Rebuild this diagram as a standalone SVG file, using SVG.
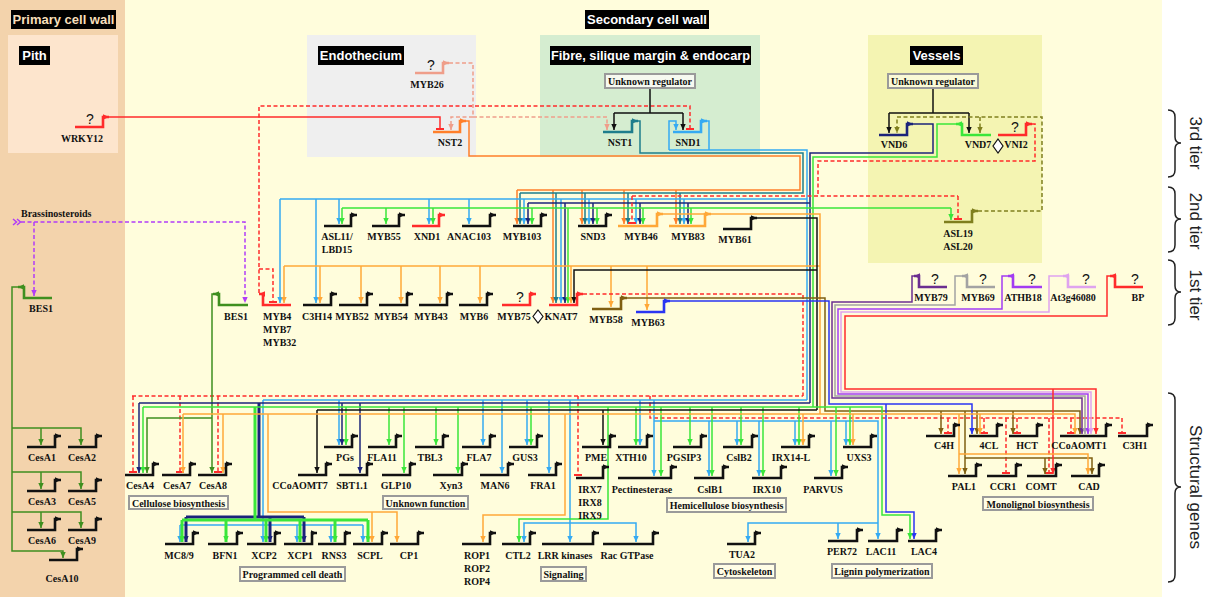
<svg xmlns="http://www.w3.org/2000/svg" width="1205" height="597" viewBox="0 0 1205 597">
<defs>
<style>
.c{fill:none;stroke-width:1.5}
.th{stroke-width:3}
.d{stroke-dasharray:4 2.5}
.gn{fill:none;stroke-width:2.6}
.K{stroke:#111}.R{stroke:#FF2B2B}.PK{stroke:#EF9E8A}.O1{stroke:#FF7F2A}.T{stroke:#1E7D8C}.LB{stroke:#35AAF2}.NV{stroke:#1B237A}.G{stroke:#3AE63A}.OL{stroke:#7F7F1E}.O2{stroke:#FFA838}.DG{stroke:#3F8F1F}.BR{stroke:#7F5F12}.BL{stroke:#2A35F2}.P1{stroke:#6B2E90}.GY{stroke:#A3A3A3}.P2{stroke:#A23CF2}.LP{stroke:#DFA3EF}.BS{stroke:#B13CF7}
.K.a{marker-end:url(#aK)}.R.a{marker-end:url(#aR)}.PK.a{marker-end:url(#aPK)}.O1.a{marker-end:url(#aO1)}.T.a{marker-end:url(#aT)}.LB.a{marker-end:url(#aLB)}.NV.a{marker-end:url(#aNV)}.G.a{marker-end:url(#aG)}.OL.a{marker-end:url(#aOL)}.O2.a{marker-end:url(#aO2)}.DG.a{marker-end:url(#aDG)}.BR.a{marker-end:url(#aBR)}.BL.a{marker-end:url(#aBL)}.P1.a{marker-end:url(#aP1)}.GY.a{marker-end:url(#aGY)}.P2.a{marker-end:url(#aP2)}.LP.a{marker-end:url(#aLP)}.BS.a{marker-end:url(#aBS)}
.tb{marker-end:url(#tR)}
text{font-family:"Liberation Serif","Times New Roman",serif}
.l{font-weight:bold;font-size:10px;text-anchor:middle;fill:#111}
.ls{font-weight:bold;font-size:10px;fill:#111}
.q{font-family:"Liberation Sans",Arial,sans-serif;font-size:14px;text-anchor:middle;fill:#111}
.hd{font-family:"Liberation Sans",Arial,sans-serif;font-weight:bold;font-size:13px;text-anchor:middle;fill:#fff}
.cb{fill:#FFFDE6;stroke:#9A9A9A;stroke-width:2}
.ur{fill:#F6F9F0;stroke:#9A9A9A;stroke-width:2}
.tr{font-family:"Liberation Sans",Arial,sans-serif;font-size:17px;text-anchor:middle;fill:#222}
.br{fill:none;stroke:#222;stroke-width:1.5}
.dm{fill:#fff;stroke:#111;stroke-width:1.2}
</style>
<marker id="aK" viewBox="0 0 6 6" refX="6" refY="3" markerWidth="6" markerHeight="6" markerUnits="userSpaceOnUse" orient="auto"><path d="M0 .3L6 3L0 5.7z" fill="#111"/></marker>
<marker id="aR" viewBox="0 0 6 6" refX="6" refY="3" markerWidth="6" markerHeight="6" markerUnits="userSpaceOnUse" orient="auto"><path d="M0 .3L6 3L0 5.7z" fill="#FF2B2B"/></marker>
<marker id="aPK" viewBox="0 0 6 6" refX="6" refY="3" markerWidth="6" markerHeight="6" markerUnits="userSpaceOnUse" orient="auto"><path d="M0 .3L6 3L0 5.7z" fill="#EF9E8A"/></marker>
<marker id="aO1" viewBox="0 0 6 6" refX="6" refY="3" markerWidth="6" markerHeight="6" markerUnits="userSpaceOnUse" orient="auto"><path d="M0 .3L6 3L0 5.7z" fill="#FF7F2A"/></marker>
<marker id="aT" viewBox="0 0 6 6" refX="6" refY="3" markerWidth="6" markerHeight="6" markerUnits="userSpaceOnUse" orient="auto"><path d="M0 .3L6 3L0 5.7z" fill="#1E7D8C"/></marker>
<marker id="aLB" viewBox="0 0 6 6" refX="6" refY="3" markerWidth="6" markerHeight="6" markerUnits="userSpaceOnUse" orient="auto"><path d="M0 .3L6 3L0 5.7z" fill="#35AAF2"/></marker>
<marker id="aNV" viewBox="0 0 6 6" refX="6" refY="3" markerWidth="6" markerHeight="6" markerUnits="userSpaceOnUse" orient="auto"><path d="M0 .3L6 3L0 5.7z" fill="#1B237A"/></marker>
<marker id="aG" viewBox="0 0 6 6" refX="6" refY="3" markerWidth="6" markerHeight="6" markerUnits="userSpaceOnUse" orient="auto"><path d="M0 .3L6 3L0 5.7z" fill="#3AE63A"/></marker>
<marker id="aOL" viewBox="0 0 6 6" refX="6" refY="3" markerWidth="6" markerHeight="6" markerUnits="userSpaceOnUse" orient="auto"><path d="M0 .3L6 3L0 5.7z" fill="#7F7F1E"/></marker>
<marker id="aO2" viewBox="0 0 6 6" refX="6" refY="3" markerWidth="6" markerHeight="6" markerUnits="userSpaceOnUse" orient="auto"><path d="M0 .3L6 3L0 5.7z" fill="#FFA838"/></marker>
<marker id="aDG" viewBox="0 0 6 6" refX="6" refY="3" markerWidth="6" markerHeight="6" markerUnits="userSpaceOnUse" orient="auto"><path d="M0 .3L6 3L0 5.7z" fill="#3F8F1F"/></marker>
<marker id="aBR" viewBox="0 0 6 6" refX="6" refY="3" markerWidth="6" markerHeight="6" markerUnits="userSpaceOnUse" orient="auto"><path d="M0 .3L6 3L0 5.7z" fill="#7F5F12"/></marker>
<marker id="aBL" viewBox="0 0 6 6" refX="6" refY="3" markerWidth="6" markerHeight="6" markerUnits="userSpaceOnUse" orient="auto"><path d="M0 .3L6 3L0 5.7z" fill="#2A35F2"/></marker>
<marker id="aP1" viewBox="0 0 6 6" refX="6" refY="3" markerWidth="6" markerHeight="6" markerUnits="userSpaceOnUse" orient="auto"><path d="M0 .3L6 3L0 5.7z" fill="#6B2E90"/></marker>
<marker id="aGY" viewBox="0 0 6 6" refX="6" refY="3" markerWidth="6" markerHeight="6" markerUnits="userSpaceOnUse" orient="auto"><path d="M0 .3L6 3L0 5.7z" fill="#A3A3A3"/></marker>
<marker id="aP2" viewBox="0 0 6 6" refX="6" refY="3" markerWidth="6" markerHeight="6" markerUnits="userSpaceOnUse" orient="auto"><path d="M0 .3L6 3L0 5.7z" fill="#A23CF2"/></marker>
<marker id="aLP" viewBox="0 0 6 6" refX="6" refY="3" markerWidth="6" markerHeight="6" markerUnits="userSpaceOnUse" orient="auto"><path d="M0 .3L6 3L0 5.7z" fill="#DFA3EF"/></marker>
<marker id="aBS" viewBox="0 0 6 6" refX="6" refY="3" markerWidth="6" markerHeight="6" markerUnits="userSpaceOnUse" orient="auto"><path d="M0 .3L6 3L0 5.7z" fill="#B13CF7"/></marker>
<marker id="tR" viewBox="0 0 2 8" refX="1" refY="4" markerWidth="2" markerHeight="8" markerUnits="userSpaceOnUse" orient="auto"><rect width="2" height="8" fill="#FF2B2B"/></marker>
</defs>

<g id="panels">
<rect width="1205" height="597" fill="#FFFFFF"/>
<rect x="125" y="0" width="1037" height="597" fill="#FFFDDC"/>
<rect x="0" y="0" width="125" height="597" fill="#F3D3AC"/>
<rect x="8" y="35" width="110" height="118" fill="#FDE5CD"/>
<rect x="307" y="35" width="169" height="122" fill="#EFEFEF"/>
<rect x="540" y="35" width="220" height="122" fill="#D5EDD0"/>
<rect x="868" y="35" width="174" height="228" fill="#F4F4B2"/>
<rect x="11" y="10" width="105" height="19" fill="#000"/><text class="hd" x="63.5" y="24" style="fill:#F7DFBB">Primary cell wall</text>
<rect x="19" y="46" width="31" height="19" fill="#000"/><text class="hd" x="34.5" y="60">Pith</text>
<rect x="585" y="10" width="124" height="19" fill="#000"/><text class="hd" x="647" y="24">Secondary cell wall</text>
<rect x="318" y="46" width="86" height="19" fill="#000"/><text class="hd" x="361" y="60">Endothecium</text>
<rect x="550" y="46" width="201" height="19" fill="#000"/><text class="hd" x="650.5" y="60" style="font-size:12.8px">Fibre, silique margin &amp; endocarp</text>
<rect x="910" y="46" width="53" height="19" fill="#000"/><text class="hd" x="936.5" y="60">Vessels</text>
</g>

<g id="tiers">
<path class="br" d="M1168 110Q1175 110 1175 117V137Q1175 143 1181 143Q1175 143 1175 149V170Q1175 177 1168 177"/>
<text class="tr" x="1190" y="143" transform="rotate(90 1190 143)">3rd tier</text>
<path class="br" d="M1168 187Q1175 187 1175 194V213Q1175 219 1181 219Q1175 219 1175 225V245Q1175 252 1168 252"/>
<text class="tr" x="1190" y="221" transform="rotate(90 1190 221)">2nd tier</text>
<path class="br" d="M1168 260Q1175 260 1175 267V286Q1175 292 1181 292Q1175 292 1175 298V318Q1175 325 1168 325"/>
<text class="tr" x="1190" y="295" transform="rotate(90 1190 295)">1st tier</text>
<path class="br" d="M1168 393Q1175 393 1175 400V481Q1175 487 1181 487Q1175 487 1175 493V575Q1175 582 1168 582"/>
<text class="tr" x="1190" y="487" transform="rotate(90 1190 487)">Structural genes</text>
</g>

<g id="connectors">
<path class="c R tb" d="M109 117H440V129"/>
<path class="c R d tb" d="M259 293V106H690V129"/>
<path class="c R d tb" d="M259 269H273V302"/>
<path class="c PK d a" d="M449 63H473V117H607V130"/>
<path class="c PK d a" d="M473 117H451V130"/>
<path class="c K" d="M650 88V113M614 113H683"/>
<path class="c K a" d="M614 113V130"/>
<path class="c K a" d="M683 113V130"/>
<path class="c K" d="M933 88V113M889 113H969"/>
<path class="c K a" d="M889 113V133"/>
<path class="c K a" d="M969 113V133"/>
<path class="c OL d a" d="M978 211H1042V117H897V133"/>
<path class="c OL d a" d="M980 117V133"/>
<path class="c LB" d="M707 121H709V150"/>
<path class="c LB a" d="M669 150V121H676V130"/>

<path class="c O1" d="M466 121H469V156H800V190H517"/>
<path class="c O1 a" d="M517 190V224"/>
<path class="c O1 a" d="M553 190V303"/>
<path class="c O1 a" d="M582 190V224"/>
<path class="c O1 a" d="M624 190V224"/>
<path class="c O1 a" d="M676 190V224"/>

<path class="c T" d="M638 121H640V153H803V193H520"/>
<path class="c T a" d="M520 193V224"/>
<path class="c T a" d="M556 193V303"/>
<path class="c T a" d="M585 193V224"/>
<path class="c T a" d="M628 193V224"/>
<path class="c T a" d="M680 193V224"/>

<path class="c LB" d="M669 150H807V400"/>
<path class="c LB" d="M280 199H807"/>
<path class="c LB a" d="M280 199V303"/>
<path class="c LB a" d="M316 199V303"/>
<path class="c LB a" d="M339 199V224"/>
<path class="c LB a" d="M429 199V224"/>
<path class="c LB a" d="M469 199V224"/>
<path class="c LB a" d="M524 199V224"/>
<path class="c LB a" d="M561 199V303"/>
<path class="c LB a" d="M589 199V224"/>
<path class="c LB a" d="M636 199V224"/>
<path class="c LB a" d="M684 199V224"/>

<path class="c NV" d="M913 124H933V153H810V403"/>
<path class="c NV" d="M528 203H810"/>
<path class="c NV a" d="M528 203V224"/>
<path class="c NV a" d="M565 203V303"/>
<path class="c NV a" d="M593 203V224"/>
<path class="c NV a" d="M640 203V224"/>
<path class="c NV a" d="M688 203V224"/>

<path class="c G" d="M956 124H937V157H813V407"/>
<path class="c G" d="M342 208H951"/>
<path class="c G a" d="M951 208V220"/>
<path class="c G a" d="M342 208V224"/>
<path class="c G a" d="M386 208V224"/>
<path class="c G a" d="M433 208V224"/>
<path class="c G a" d="M532 208V224"/>
<path class="c G a" d="M568 208V303"/>
<path class="c G a" d="M597 208V224"/>
<path class="c G a" d="M643 208V224"/>
<path class="c G a" d="M691 208V224"/>

<path class="c R d" d="M1032 124H1035V161H818V196"/>
<path class="c R d" d="M632 196H958"/>
<path class="c R d tb" d="M632 196V223"/>
<path class="c R d tb" d="M958 196V219"/>

<path class="c O2" d="M663 214H820V414"/>
<path class="c O2" d="M284 266H820"/>
<path class="c O2 a" d="M284 266V303"/>
<path class="c O2 a" d="M320 266V303"/>
<path class="c O2 a" d="M361 266V303"/>
<path class="c O2 a" d="M401 266V303"/>
<path class="c O2 a" d="M440 266V303"/>
<path class="c O2 a" d="M480 266V303"/>
<path class="c O2 a" d="M571 266V303"/>
<path class="c O2 a" d="M611 266V307"/>
<path class="c O2 a" d="M647 266V310"/>

<path class="c K" d="M757 218H817V410"/>
<path class="c K a" d="M817 270H574V303"/>

<path class="c R d" d="M583 294H803V396"/>
<path class="c R d" d="M132 396H803"/>
<path class="c R d tb" d="M133 396V472"/>
<path class="c R d tb" d="M180 396V472"/>
<path class="c R d tb" d="M218 396V472"/>
<path class="c R d tb" d="M578 396V475"/>
<path class="c R d tb" d="M650 396V418H1122V433"/>
<path class="c R d tb" d="M948 418V433"/>
<path class="c R d tb" d="M984 418V433"/>
<path class="c R d tb" d="M1006 418V473"/>
<path class="c R d tb" d="M1017 418V433"/>
<path class="c R d tb" d="M1049 418V473"/>
<path class="c R d tb" d="M1071 418V433"/>

<path class="c BR a" d="M627 298H825V411H1080V434"/>
<path class="c BR a" d="M941 411V434"/>
<path class="c BR a" d="M977 411V434"/>
<path class="c BR a" d="M1013 411V434"/>
<path class="c BR a" d="M965 411V474"/>
<path class="c BR a" d="M965 458H1092V474"/>
<path class="c BR a" d="M1045 458V474"/>

<path class="c BL a" d="M670 301H829V404H972V434"/>
<path class="c BL a" d="M886 404V512H914V539"/>

<path class="c P1 a" d="M914 276H912V302H832V398H1082V434"/>
<path class="c GY a" d="M962 276H955V305H835V396H1085V434"/>
<path class="c P2 a" d="M1008 276H1002V309H838V394H1088V434"/>
<path class="c LP a" d="M1063 276H1049V312H841V392H1091V434"/>
<path class="c R a" d="M1110 276H1107V316H845V389H1096V434"/>
<path class="c R a" d="M1053 389V474"/>

<path class="c BS" d="M13 219L16.5 222L13 225M17 219L20.5 222L17 225"/>
<path class="c BS d a" d="M21 222H245V303"/>
<path class="c BS d a" d="M34 222V296"/>

<path class="c DG a" d="M18 287H12V551H63V558"/>
<path class="c DG a" d="M12 428H81V445"/>
<path class="c DG a" d="M41 428V445"/>
<path class="c DG a" d="M12 472H81V489"/>
<path class="c DG a" d="M41 472V489"/>
<path class="c DG a" d="M12 512H81V528"/>
<path class="c DG a" d="M41 512V528"/>
<path class="c DG a" d="M213 294H212V473"/>
<path class="c DG a" d="M212 418H147V473"/>

<path class="c LB" d="M263 400H807"/>
<path class="c LB a" d="M339 400V445"/>
<path class="c LB a" d="M483 400V445"/>
<path class="c LB a" d="M502 400V473"/>
<path class="c LB a" d="M527 400V445"/>
<path class="c LB a" d="M549 400V473"/>
<path class="c LB a" d="M570 400V542"/>
<path class="c LB a" d="M640 400V445"/>
<path class="c LB a" d="M654 400V476"/>
<path class="c LB a" d="M263 400V542"/>
<path class="c LB" d="M180 525H363"/>
<path class="c LB a" d="M180 525V542"/>
<path class="c LB a" d="M297 525V542"/>
<path class="c LB a" d="M331 525V542"/>
<path class="c LB a" d="M363 525V542"/>
<path class="c LB a" d="M654 421H878V539"/>
<path class="c LB a" d="M709 421V476"/>
<path class="c LB a" d="M737 421V445"/>
<path class="c LB a" d="M759 421V476"/>
<path class="c LB a" d="M795 421V445"/>
<path class="c LB a" d="M831 421V476"/>
<path class="c LB a" d="M846 421V445"/>
<path class="c LB a" d="M878 523H748V542"/>
<path class="c LB a" d="M838 523V539"/>
<path class="c LB a" d="M570 523H524V542"/>
<path class="c LB a" d="M570 523H636V542"/>

<path class="c NV" d="M139 403H810"/>
<path class="c NV a" d="M139 403V473"/>
<path class="c NV a" d="M342 403V445"/>
<path class="c NV a" d="M360 403V473"/>
<path class="c NV th" d="M259 403V517M186 517H304"/>
<path class="c NV th a" d="M186 517V542"/>
<path class="c NV th a" d="M270 517V542"/>
<path class="c NV th a" d="M304 517V542"/>

<path class="c G a" d="M143 407H882V515H910V539"/>
<path class="c G a" d="M143 407V473"/>
<path class="c G a" d="M346 407V445"/>
<path class="c G a" d="M389 407V445"/>
<path class="c G a" d="M404 407V473"/>
<path class="c G a" d="M436 407V445"/>
<path class="c G a" d="M458 407V473"/>
<path class="c G a" d="M531 407V445"/>
<path class="c G a" d="M636 407V445"/>
<path class="c G a" d="M661 407V476"/>
<path class="c G a" d="M690 407V445"/>
<path class="c G a" d="M712 407V476"/>
<path class="c G a" d="M741 407V445"/>
<path class="c G a" d="M763 407V476"/>
<path class="c G a" d="M799 407V445"/>
<path class="c G a" d="M836 407V476"/>
<path class="c G a" d="M850 407V445"/>
<path class="c G a" d="M608 407V519H519V542"/>
<path class="c G th" d="M255 407V520M182 520H368"/>
<path class="c G th a" d="M182 520V542"/>
<path class="c G th a" d="M226 520V542"/>
<path class="c G th a" d="M266 520V542"/>
<path class="c G th a" d="M300 520V542"/>
<path class="c G th a" d="M335 520V542"/>
<path class="c G th a" d="M368 520V542"/>

<path class="c K" d="M317 410H817"/>
<path class="c K a" d="M317 410V473"/>
<path class="c K a" d="M603 410V445"/>

<path class="c O2 a" d="M183 414H1075V434"/>
<path class="c O2 a" d="M183 414V473"/>
<path class="c O2 a" d="M223 414V473"/>
<path class="c O2 a" d="M803 414V445"/>
<path class="c O2 a" d="M853 414V445"/>
<path class="c O2 a" d="M959 414V474"/>
<path class="c O2 a" d="M980 414V434"/>
<path class="c O2 a" d="M959 454H1088V474"/>
<path class="c O2 a" d="M268 414V512H397V542"/>
<path class="c O2 a" d="M372 512V542"/>
<path class="c O2 a" d="M565 414V515H483V542"/>
</g>

<g id="tier3">
<g id="n-WRKY12"><path class="gn R a" d="M75 127H103V117h6"/><text class="q" x="90" y="124">?</text><text class="l" x="82" y="142">WRKY12</text></g>
<g id="n-MYB26"><path class="gn PK a" d="M415 73H443V63h6"/><text class="q" x="431" y="70">?</text><text class="l" x="427" y="88">MYB26</text></g>
<g id="n-NST2"><path class="gn O1 a" d="M433 132H460V121h6"/><text class="l" x="450" y="146">NST2</text></g>
<g id="n-UR1"><rect class="ur" x="605" y="74" width="90" height="14"/><text class="l" x="650" y="84.5">Unknown regulator</text></g>
<g id="n-NST1"><path class="gn T a" d="M603 132H632V121h6"/><text class="l" x="620" y="146">NST1</text></g>
<g id="n-SND1"><path class="gn LB a" d="M673 132H701V121h6"/><text class="l" x="688" y="146">SND1</text></g>
<g id="n-UR2"><rect class="ur" x="888" y="74" width="90" height="14" style="fill:#FAFAD6"/><text class="l" x="933" y="84.5">Unknown regulator</text></g>
<g id="n-VND6"><path class="gn NV a" d="M879 135H907V124h6"/><text class="l" x="894" y="148">VND6</text></g>
<g id="n-VND7"><path class="gn G a" d="M991 135H962V124h-6"/><text class="l" x="978" y="148">VND7</text></g>
<g id="n-diamond2"><path class="dm" d="M998 139L1003 146L998 153L993 146Z"/></g>
<g id="n-VNI2"><path class="gn R a" d="M998 135H1026V124h6"/><text class="q" x="1015" y="132">?</text><text class="l" x="1016" y="148">VNI2</text></g>
</g>

<g id="tier2">
<g id="n-ASL11"><path class="gn K a" d="M324 226H351V215h6"/><text class="l" x="337" y="240">ASL11/</text><text class="l" x="337" y="253">LBD15</text></g>
<g id="n-MYB55"><path class="gn K a" d="M372 226H399V215h6"/><text class="l" x="384" y="240">MYB55</text></g>
<g id="n-XND1"><path class="gn R a" d="M412 226H439V215h6"/><text class="l" x="427" y="240">XND1</text></g>
<g id="n-ANAC103"><path class="gn K a" d="M462 226H490V215h6"/><text class="l" x="469" y="240">ANAC103</text></g>
<g id="n-MYB103"><path class="gn K a" d="M513 226H541V215h6"/><text class="l" x="522" y="240">MYB103</text></g>
<g id="n-SND3"><path class="gn K a" d="M578 226H606V215h6"/><text class="l" x="593" y="240">SND3</text></g>
<g id="n-MYB46"><path class="gn O2 a" d="M618 226H657V214h6"/><text class="l" x="641" y="240">MYB46</text></g>
<g id="n-MYB83"><path class="gn O2 a" d="M669 226H705V214h6"/><text class="l" x="688" y="240">MYB83</text></g>
<g id="n-MYB61"><path class="gn K a" d="M723 229H751V218h6"/><text class="l" x="735" y="243">MYB61</text></g>
<g id="n-ASL19"><path class="gn OL a" d="M944 222H972V211h6"/><text class="l" x="958" y="237">ASL19</text><text class="l" x="958" y="250">ASL20</text></g>
</g>

<g id="tier1">
<g id="n-Brassinosteroids"><text class="ls" x="21" y="217">Brassinosteroids</text></g>
<g id="n-BES1a"><path class="gn DG a" d="M52 298H24V287h-6"/><text class="l" x="41" y="312">BES1</text></g>
<g id="n-BES1b"><path class="gn DG a" d="M248 305H219V294h-6"/><text class="l" x="236" y="320">BES1</text></g>
<g id="n-MYB4"><path class="gn R a" d="M291 305H263V294h-4"/><text class="ls" x="263" y="320">MYB4</text><text class="ls" x="263" y="333">MYB7</text><text class="ls" x="263" y="346">MYB32</text></g>
<g id="n-C3H14"><path class="gn K a" d="M303 305H331V294h6"/><text class="l" x="317" y="320">C3H14</text></g>
<g id="n-MYB52"><path class="gn K a" d="M339 305H367V294h6"/><text class="l" x="352" y="320">MYB52</text></g>
<g id="n-MYB54"><path class="gn K a" d="M379 305H407V294h6"/><text class="l" x="391" y="320">MYB54</text></g>
<g id="n-MYB43"><path class="gn K a" d="M419 305H447V294h6"/><text class="l" x="431" y="320">MYB43</text></g>
<g id="n-MYB6"><path class="gn K a" d="M459 305H487V294h6"/><text class="l" x="474" y="320">MYB6</text></g>
<g id="n-MYB75"><path class="gn R a" d="M502 305H530V294h6"/><text class="q" x="520" y="302">?</text><text class="l" x="514" y="320">MYB75</text></g>
<g id="n-diamond1"><path class="dm" d="M538 310L543 316.5L538 323L533 316.5Z"/></g>
<g id="n-KNAT7"><path class="gn R a" d="M549 305H577V294h6"/><text class="l" x="561" y="320">KNAT7</text></g>
<g id="n-MYB58"><path class="gn BR a" d="M592 309H621V298h6"/><text class="l" x="606" y="323">MYB58</text></g>
<g id="n-MYB63"><path class="gn BL a" d="M636 312H664V301h6"/><text class="l" x="648" y="326">MYB63</text></g>
<g id="n-MYB79"><path class="gn P1 a" d="M947 287H919V276h-5"/><text class="q" x="935" y="284">?</text><text class="l" x="931" y="301">MYB79</text></g>
<g id="n-MYB69"><path class="gn GY a" d="M995 287H967V276h-5"/><text class="q" x="983" y="284">?</text><text class="l" x="978" y="301">MYB69</text></g>
<g id="n-ATHB18"><path class="gn P2 a" d="M1042 287H1013V276h-5"/><text class="q" x="1032" y="284">?</text><text class="l" x="1023" y="301">ATHB18</text></g>
<g id="n-At3g46080"><path class="gn LP a" d="M1096 287H1068V276h-5"/><text class="q" x="1086" y="284">?</text><text class="l" x="1073" y="301">At3g46080</text></g>
<g id="n-BP"><path class="gn R a" d="M1143 287H1115V276h-5"/><text class="q" x="1135" y="284">?</text><text class="l" x="1138" y="301">BP</text></g>
</g>

<g id="structural">
<g id="n-CesA1"><path class="gn K a" d="M27 447H55V436h6"/><text class="l" x="42" y="461">CesA1</text></g>
<g id="n-CesA2"><path class="gn K a" d="M68 447H96V436h6"/><text class="l" x="82" y="461">CesA2</text></g>
<g id="n-CesA3"><path class="gn K a" d="M27 491H55V480h6"/><text class="l" x="42" y="505">CesA3</text></g>
<g id="n-CesA5"><path class="gn K a" d="M68 491H96V480h6"/><text class="l" x="82" y="505">CesA5</text></g>
<g id="n-CesA6"><path class="gn K a" d="M27 530H55V519h6"/><text class="l" x="42" y="544">CesA6</text></g>
<g id="n-CesA9"><path class="gn K a" d="M68 530H96V519h6"/><text class="l" x="82" y="544">CesA9</text></g>
<g id="n-CesA10"><path class="gn K a" d="M49 560H77V549h6"/><text class="l" x="62" y="582">CesA10</text></g>
<g id="n-CesA4"><path class="gn K a" d="M125 475H153V464h6"/><text class="l" x="140" y="489">CesA4</text></g>
<g id="n-CesA7"><path class="gn K a" d="M162 475H190V464h6"/><text class="l" x="177" y="489">CesA7</text></g>
<g id="n-CesA8"><path class="gn K a" d="M198 475H226V464h6"/><text class="l" x="213" y="489">CesA8</text></g>
<g id="c-cellulose"><rect class="cb" x="129" y="496" width="99" height="13"/><text class="l" x="178.5" y="506.5">Cellulose biosynthesis</text></g>
<g id="n-CCoAOMT7"><path class="gn K a" d="M298 475H326V464h6"/><text class="l" x="300" y="489">CCoAOMT7</text></g>
<g id="n-PGs"><path class="gn K a" d="M324 447H352V436h6"/><text class="l" x="345" y="461">PGs</text></g>
<g id="n-SBT1.1"><path class="gn K a" d="M339 475H367V464h6"/><text class="l" x="352" y="489">SBT1.1</text></g>
<g id="n-FLA11"><path class="gn K a" d="M368 447H396V436h6"/><text class="l" x="382" y="461">FLA11</text></g>
<g id="n-GLP10"><path class="gn K a" d="M382 475H410V464h6"/><text class="l" x="396" y="489">GLP10</text></g>
<g id="n-TBL3"><path class="gn K a" d="M415 447H443V436h6"/><text class="l" x="430" y="461">TBL3</text></g>
<g id="n-Xyn3"><path class="gn K a" d="M433 475H462V464h6"/><text class="l" x="451" y="489">Xyn3</text></g>
<g id="n-FLA7"><path class="gn K a" d="M462 447H490V436h6"/><text class="l" x="479" y="461">FLA7</text></g>
<g id="n-MAN6"><path class="gn K a" d="M480 475H508V464h6"/><text class="l" x="495" y="489">MAN6</text></g>
<g id="n-GUS3"><path class="gn K a" d="M509 447H537V436h6"/><text class="l" x="525" y="461">GUS3</text></g>
<g id="n-FRA1"><path class="gn K a" d="M528 475H556V464h6"/><text class="l" x="543" y="489">FRA1</text></g>
<g id="c-unknown"><rect class="cb" x="383" y="496" width="85" height="13"/><text class="l" x="425.5" y="506.5">Unknown function</text></g>
<g id="n-PME"><path class="gn K a" d="M582 447H610V436h6"/><text class="l" x="596" y="461">PME</text></g>
<g id="n-IRX7"><path class="gn K a" d="M576 478H603V467h6"/><text class="l" x="590" y="493">IRX7</text><text class="l" x="590" y="506">IRX8</text><text class="l" x="590" y="519">IRX9</text></g>
<g id="n-XTH10"><path class="gn K a" d="M618 447H647V436h6"/><text class="l" x="631" y="461">XTH10</text></g>
<g id="n-Pectinesterase"><path class="gn K a" d="M618 478H671V467h6"/><text class="l" x="642" y="493">Pectinesterase</text></g>
<g id="n-PGSIP3"><path class="gn K a" d="M673 447H701V436h6"/><text class="l" x="684" y="461">PGSIP3</text></g>
<g id="n-CslB2"><path class="gn K a" d="M723 447H752V436h6"/><text class="l" x="739" y="461">CslB2</text></g>
<g id="n-CslB1"><path class="gn K a" d="M694 478H723V467h6"/><text class="l" x="710" y="493">CslB1</text></g>
<g id="n-IRX10"><path class="gn K a" d="M752 478H781V467h6"/><text class="l" x="767" y="493">IRX10</text></g>
<g id="n-IRX14-L"><path class="gn K a" d="M781 447H809V436h6"/><text class="l" x="791" y="461">IRX14-L</text></g>
<g id="n-PARVUS"><path class="gn K a" d="M814 478H842V467h6"/><text class="l" x="823" y="493">PARVUS</text></g>
<g id="n-UXS3"><path class="gn K a" d="M843 447H871V436h6"/><text class="l" x="859" y="461">UXS3</text></g>
<g id="c-hemi"><rect class="cb" x="667" y="498" width="119" height="14"/><text class="l" x="726.5" y="509">Hemicellulose biosynthesis</text></g>
<g id="n-C4H"><path class="gn K a" d="M926 436H954V425h6"/><text class="l" x="944" y="449">C4H</text></g>
<g id="n-4CL"><path class="gn K a" d="M969 436H997V425h6"/><text class="l" x="989" y="449">4CL</text></g>
<g id="n-HCT"><path class="gn K a" d="M1009 436H1037V425h6"/><text class="l" x="1027" y="449">HCT</text></g>
<g id="n-CCoAOMT1"><path class="gn K a" d="M1060 436H1106V425h6"/><text class="l" x="1079" y="449">CCoAOMT1</text></g>
<g id="n-C3H1"><path class="gn K a" d="M1118 436H1147V425h6"/><text class="l" x="1135" y="449">C3H1</text></g>
<g id="n-PAL1"><path class="gn K a" d="M948 476H976V465h6"/><text class="l" x="964" y="490">PAL1</text></g>
<g id="n-CCR1"><path class="gn K a" d="M987 476H1016V465h6"/><text class="l" x="1003" y="490">CCR1</text></g>
<g id="n-COMT"><path class="gn K a" d="M1027 476H1056V465h6"/><text class="l" x="1041" y="490">COMT</text></g>
<g id="n-CAD"><path class="gn K a" d="M1071 476H1099V465h6"/><text class="l" x="1089" y="490">CAD</text></g>
<g id="c-monolignol"><rect class="cb" x="983" y="497" width="110" height="13"/><text class="l" x="1038" y="507.5">Monolignol biosynthesis</text></g>
<g id="n-MC8-9"><path class="gn K a" d="M165 544H193V533h6"/><text class="l" x="179" y="559">MC8/9</text></g>
<g id="n-BFN1"><path class="gn K a" d="M208 544H237V533h6"/><text class="l" x="225" y="559">BFN1</text></g>
<g id="n-XCP2"><path class="gn K a" d="M247 544H275V533h6"/><text class="l" x="264" y="559">XCP2</text></g>
<g id="n-XCP1"><path class="gn K a" d="M284 544H312V533h5"/><text class="l" x="300" y="559">XCP1</text></g>
<g id="n-RNS3"><path class="gn K a" d="M318 544H345V533h6"/><text class="l" x="334" y="559">RNS3</text></g>
<g id="n-SCPL"><path class="gn K a" d="M353 544H382V533h6"/><text class="l" x="370" y="559">SCPL</text></g>
<g id="n-CP1"><path class="gn K a" d="M390 544H418V533h6"/><text class="l" x="409" y="559">CP1</text></g>
<g id="c-pcd"><rect class="cb" x="240" y="567" width="105" height="14"/><text class="l" x="292.5" y="578">Programmed cell death</text></g>
<g id="n-ROP"><path class="gn K a" d="M462 544H490V533h6"/><text class="l" x="477" y="559">ROP1</text><text class="l" x="477" y="572">ROP2</text><text class="l" x="477" y="585">ROP4</text></g>
<g id="n-CTL2"><path class="gn K a" d="M502 544H530V533h6"/><text class="l" x="518" y="559">CTL2</text></g>
<g id="n-LRR"><path class="gn K a" d="M542 544H593V533h6"/><text class="l" x="565" y="559">LRR kinases</text></g>
<g id="n-Rac"><path class="gn K a" d="M603 544H653V533h6"/><text class="l" x="627" y="559">Rac GTPase</text></g>
<g id="c-signaling"><rect class="cb" x="541" y="567" width="45" height="14"/><text class="l" x="563.5" y="578">Signaling</text></g>
<g id="n-TUA2"><path class="gn K a" d="M727 544H755V533h6"/><text class="l" x="742" y="558">TUA2</text></g>
<g id="c-cyto"><rect class="cb" x="714" y="564" width="61" height="14"/><text class="l" x="744.5" y="575">Cytoskeleton</text></g>
<g id="n-PER72"><path class="gn K a" d="M828 541H857V530h6"/><text class="l" x="842" y="555">PER72</text></g>
<g id="n-LAC11"><path class="gn K a" d="M868 541H897V530h6"/><text class="l" x="881" y="555">LAC11</text></g>
<g id="n-LAC4"><path class="gn K a" d="M908 541H936V530h6"/><text class="l" x="924" y="555">LAC4</text></g>
<g id="c-lignin"><rect class="cb" x="832" y="564" width="100" height="14"/><text class="l" x="882" y="575">Lignin polymerization</text></g>
</g>
</svg>
